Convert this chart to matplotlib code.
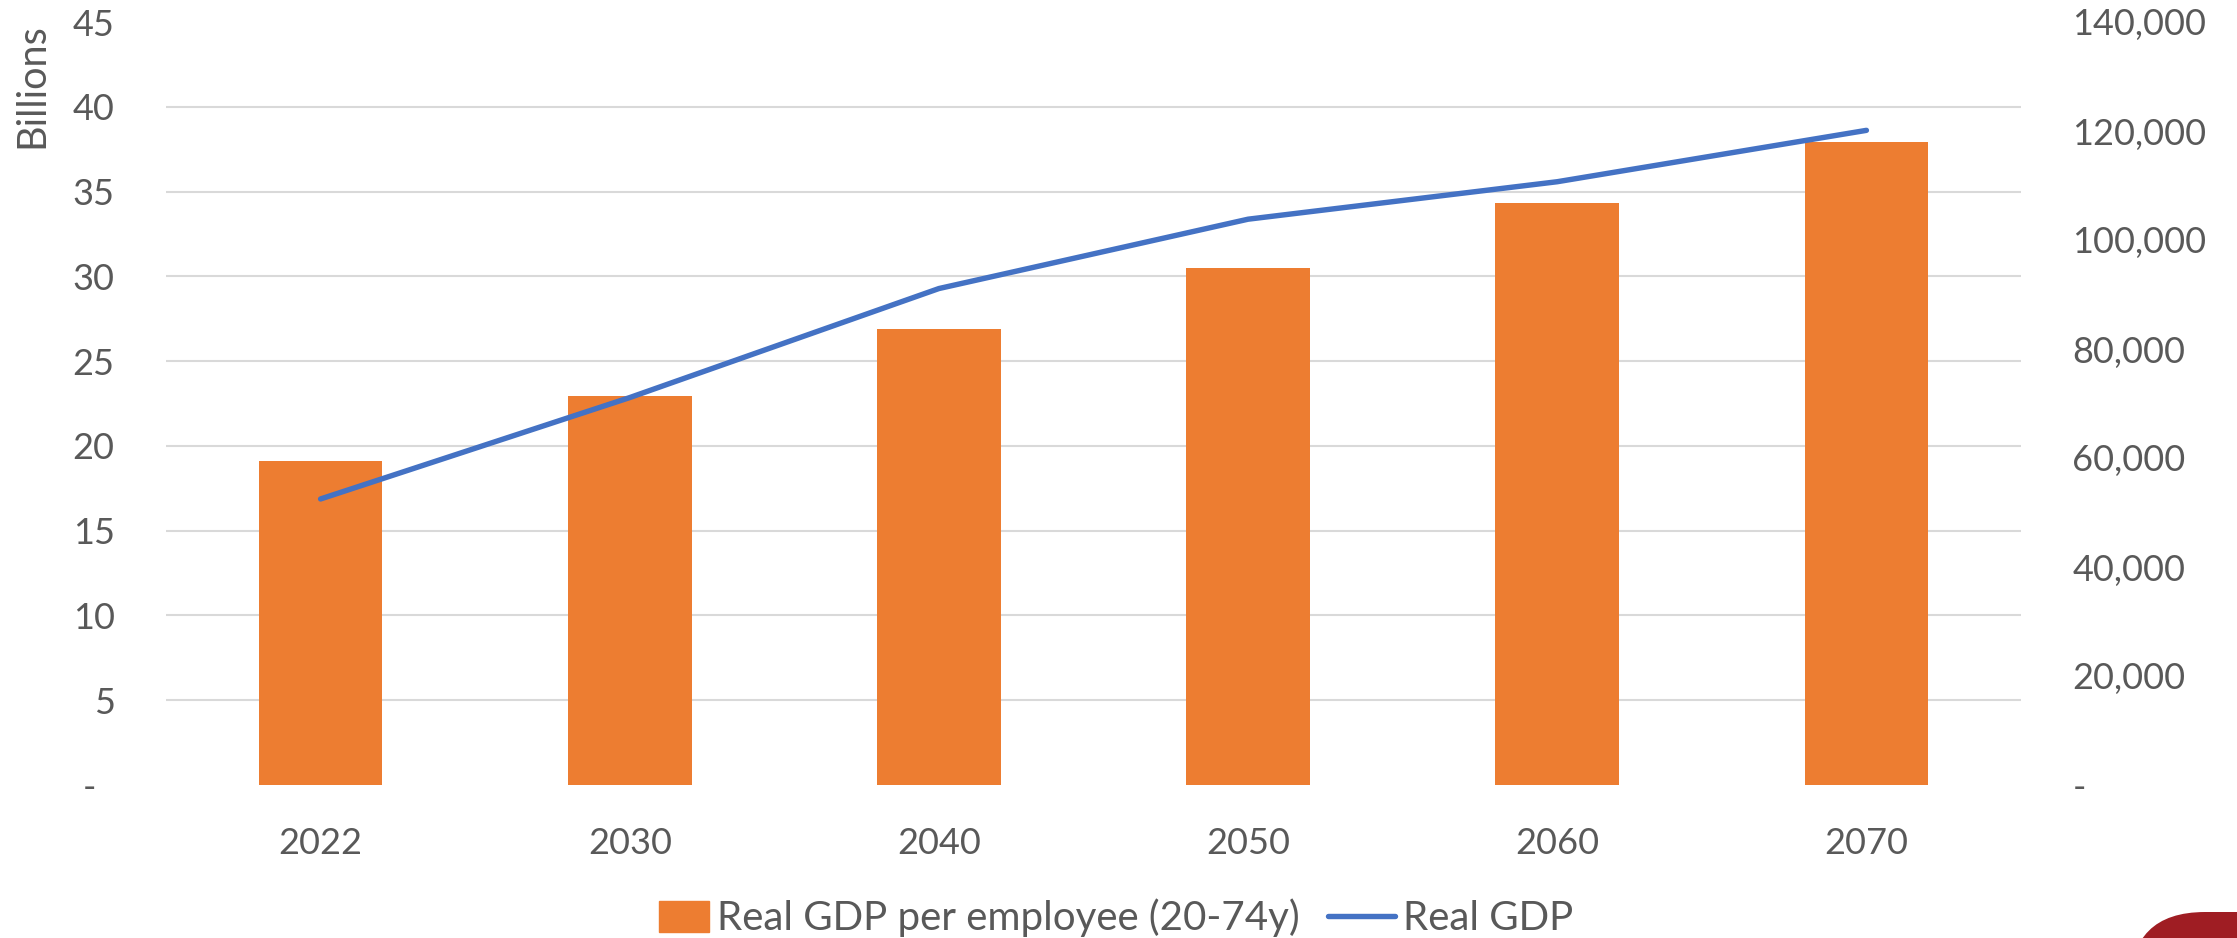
import matplotlib
matplotlib.use("Agg")
import matplotlib.pyplot as plt
from matplotlib.legend_handler import HandlerPatch
from matplotlib.patches import Patch, Rectangle, FancyBboxPatch
from matplotlib.lines import Line2D
from matplotlib.transforms import IdentityTransform
import numpy as np


years = ["2022", "2030", "2040", "2050", "2060", "2070"]
gdp_per_employee = [59400, 71300, 83700, 94800, 106800, 117900]   # right axis
real_gdp_bn = [16.87, 22.85, 29.28, 33.37, 35.58, 38.61]         # left axis, billions

left_ticks = list(range(0, 46, 5))
right_ticks = list(range(0, 140001, 20000))

ORANGE = "#ED7D31"
BLUE = "#4472C4"
GRID = "#D9D9D9"
TEXT = "#595959"

plt.rcParams["font.family"] = ["Lato", "DejaVu Sans"]

W, H = 2237, 938
fig = plt.figure(figsize=(W / 100, H / 100), dpi=100)
ax = fig.add_axes([166 / W, 153 / H, 1855 / W, 763 / H])

x = np.arange(len(years))
ax.bar(x, gdp_per_employee, width=0.4, color=ORANGE, zorder=2)
ax.set_xlim(-0.5, len(years) - 0.5)
ax.set_ylim(0, right_ticks[-1])

ax2 = ax.twinx()
ax2.plot(x, real_gdp_bn, color=BLUE, lw=3.9,
         solid_capstyle="round", solid_joinstyle="round")
ax2.set_ylim(0, left_ticks[-1])

# bars carry the right-hand scale, the line the left-hand one
ax.yaxis.tick_right()
ax2.yaxis.tick_left()

ax.set_yticks(right_ticks)
ax.set_yticklabels(["-" if v == 0 else f"{v:,}" for v in right_ticks])
ax2.set_yticks(left_ticks)
ax2.set_yticklabels(["-  " if v == 0 else str(v) for v in left_ticks])

# horizontal grid follows the left scale but sits under the bars
scale = right_ticks[-1] / left_ticks[-1]
ax.set_yticks([v * scale for v in left_ticks], minor=True)
ax.yaxis.grid(False, which="major")
ax.yaxis.grid(True, which="minor", color=GRID, lw=1.5, zorder=0)
ax.set_axisbelow(True)

ax.set_xticks(x)
ax.set_xticklabels(years)

for a in (ax, ax2):
    for s in a.spines.values():
        s.set_visible(False)
    a.tick_params(which="both", length=0, labelsize=26, labelcolor=TEXT)
ax.tick_params(axis="y", pad=37)
ax2.tick_params(axis="y", pad=37)
ax.tick_params(axis="x", pad=30)

fig.text(32 / W, 1 - 86 / H, "Billions", rotation=90, ha="center", va="center",
         color=TEXT, fontsize=28.5)


def bar_key(legend, orig_handle, xdescent, ydescent, width, height, fontsize):
    # narrower key than the line sample, right-aligned next to its label
    w = 36
    return Rectangle((-xdescent + width - w, -ydescent), w, height)


handles = [Patch(color=ORANGE),
           Line2D([], [], color=BLUE, lw=3.9, solid_capstyle="round")]
leg = fig.legend(handles, ["Real GDP per employee (20-74y)", "Real GDP"],
                 loc="center left", bbox_to_anchor=(642 / W, 1 - 918 / H),
                 ncol=2, frameon=False, borderpad=0, borderaxespad=0,
                 handlelength=1.66, handleheight=0.82, handletextpad=0.2,
                 columnspacing=0.7, fontsize=29,
                 handler_map={Patch: HandlerPatch(patch_func=bar_key)})
for t in leg.get_texts():
    t.set_color(TEXT)

# corner of the slide banner
fig.patches.append(FancyBboxPatch((2130, -300), 400, 326,
                                  boxstyle="round,pad=0,rounding_size=75",
                                  transform=IdentityTransform(),
                                  color="#9F1D23", lw=0))

fig.savefig("out.png", dpi=100)
